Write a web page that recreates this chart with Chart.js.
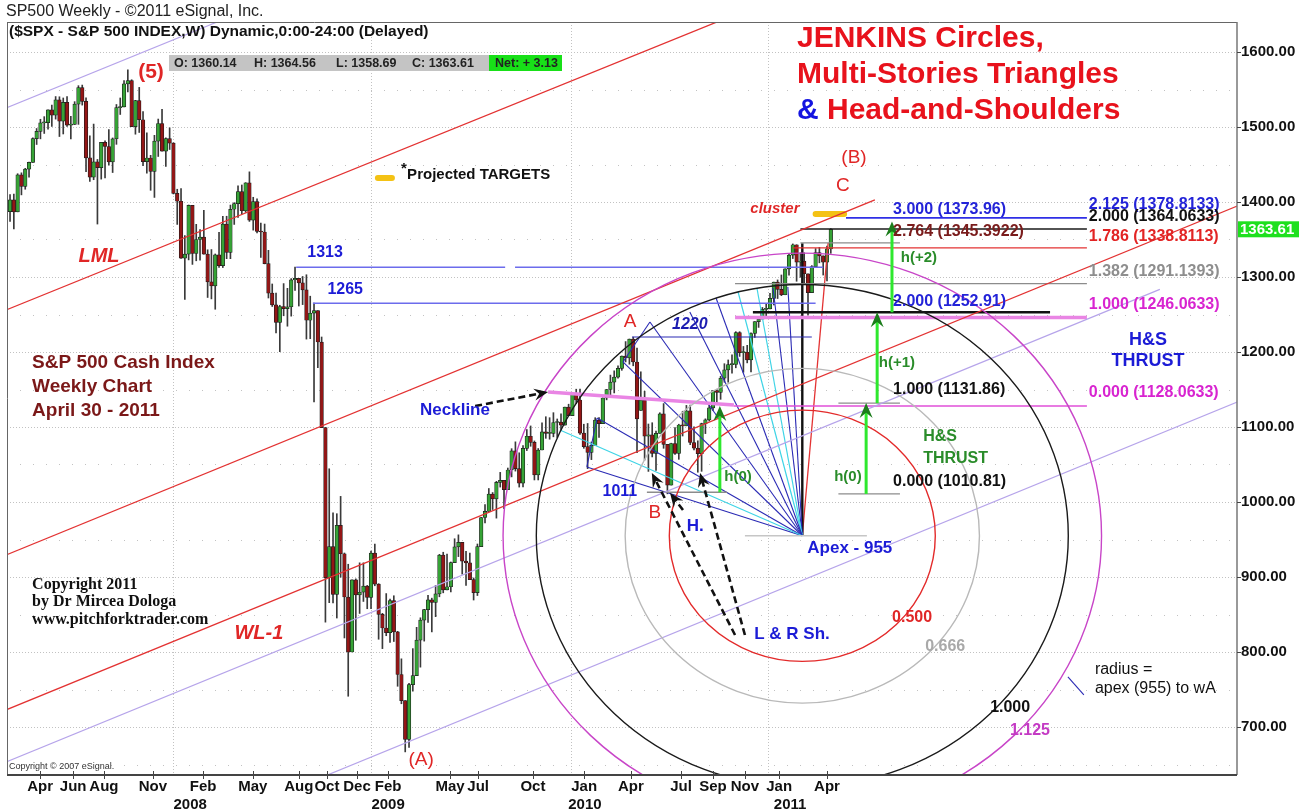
<!DOCTYPE html>
<html>
<head>
<meta charset="utf-8">
<script src="https://cdn.jsdelivr.net/npm/chart.js@4.4.1/dist/chart.umd.min.js"></script>
<style>html,body{margin:0;padding:0;background:#fff}canvas{display:block}</style>
</head>
<body>
<canvas id="chart" width="1312" height="810"></canvas>
<script>
// weekly S&P 500 bars, week 0 = 9 Mar 2007 ... week 216 = 29 Apr 2011
const open = [
  1387.1,1402.8,1386.9,1436.1,1420.8,1443.8,1452.9,1484.4,1494.1,1505.6,1505.9,1522.8,1515.7,1536.3,1507.7,1532.9,1502.6,1503.4,1530.4,1552.5,1534.1,1458.9,1433.1,1453.6,1445.9,1479.4,1474.0,1453.6,1484.3,1525.8,1526.8,1557.6,1561.8,1500.6,1535.3,1509.7,1453.7,1458.7,1440.7,1481.1,1504.7,1467.9,1484.5,
  1478.5,1411.6,1401.0,1325.2,1330.6,1395.4,1331.3,1350.0,1353.1,1330.6,1293.4,1288.1,1329.5,1315.2,1370.4,1332.8,1390.3,1397.8,1413.9,1388.3,1425.4,1375.9,1400.4,1360.7,1360.0,1317.9,1278.4,1262.9,1239.5,1260.7,1257.8,1260.3,1296.3,1298.2,1292.2,1282.8,1242.3,1251.7,1255.1,1213.3,1099.2,899.2,940.6,876.8,968.8,931.0,873.3,800.0,896.2,876.1,879.7,887.9,
  872.8,931.8,890.4,850.1,832.0,825.9,868.6,826.8,770.0,735.1,683.4,756.6,768.5,815.9,842.5,856.6,869.6,866.2,877.5,929.2,882.9,887.0,919.1,940.1,946.2,921.2,918.9,896.4,879.1,940.4,979.3,987.5,1010.5,1004.1,1026.1,1028.9,1016.4,1042.7,1068.3,1044.4,1025.2,1071.5,1087.7,1079.6,1036.2,1069.3,1093.5,1091.4,1091.5,1106.0,1106.4,1102.5,1126.5,
  1115.1,1145.0,1136.0,1091.8,1073.9,1066.2,1075.5,1109.2,1104.5,1138.7,1150.0,1159.9,1166.6,1178.1,1194.4,1192.1,1217.3,1186.7,1122.0,1135.7,1087.7,1089.4,1064.9,1091.6,1117.5,1076.8,1022.6,1078.0,1064.9,1102.7,1101.6,1121.6,1079.3,1071.7,1064.6,1104.5,1109.6,1125.6,1148.7,1146.2,1165.2,1176.2,1183.1,1183.3,1225.9,1199.2,1199.7,1189.4,1224.7,1240.4,1243.9,1256.8,
  1257.6,1271.5,1293.2,1283.4,1276.3,1310.9,1329.2,1343.0,1319.9,1321.2,1304.3,1279.2,1313.8,1332.4,1328.2,1319.7,1337.4
];
const high = [
  1410.0,1410.7,1437.7,1438.9,1444.9,1453.1,1485.4,1498.0,1510.3,1513.8,1522.8,1529.3,1540.6,1540.3,1538.7,1540.4,1514.3,1533.8,1555.1,1555.9,1538.9,1488.3,1503.9,1456.7,1479.4,1481.5,1496.4,1485.4,1530.0,1538.7,1561.9,1576.1,1563.0,1535.6,1552.8,1520.4,1492.1,1462.2,1488.9,1510.6,1523.6,1485.4,1498.9,
  1479.0,1417.0,1417.8,1355.2,1396.0,1395.4,1370.2,1363.3,1389.0,1336.3,1336.6,1330.7,1359.7,1380.9,1381.0,1395.9,1399.1,1421.6,1422.7,1425.8,1440.2,1406.3,1404.1,1371.9,1370.6,1335.6,1290.7,1278.5,1262.3,1291.2,1284.9,1297.9,1313.2,1298.2,1300.7,1303.0,1274.4,1265.1,1255.1,1220.0,1099.2,1044.3,985.4,984.4,1007.5,932.0,917.0,896.3,897.5,918.9,918.9,888.8,
  934.7,943.9,891.1,851.6,877.9,870.7,875.0,827.6,790.9,735.1,758.3,804.5,832.9,845.6,856.9,875.6,871.8,888.7,930.2,933.0,930.5,920.0,951.0,956.2,946.2,934.2,931.9,898.7,944.0,979.4,996.7,1018.0,1012.6,1027.6,1039.5,1028.9,1045.3,1071.1,1080.2,1065.6,1075.3,1096.6,1101.4,1081.4,1071.3,1105.4,1113.7,1112.4,1119.1,1110.7,1117.7,1126.5,1130.4,
  1145.4,1150.4,1150.5,1103.7,1104.7,1080.0,1112.4,1112.4,1139.0,1150.2,1169.2,1174.9,1181.4,1194.7,1213.9,1217.3,1219.8,1205.1,1173.6,1147.7,1104.0,1105.7,1094.4,1119.0,1131.2,1076.8,1078.4,1099.1,1103.7,1121.0,1128.8,1129.2,1100.1,1081.6,1105.1,1110.9,1131.5,1148.9,1150.3,1167.7,1184.4,1189.4,1196.1,1227.1,1227.1,1207.4,1208.9,1225.6,1240.4,1246.7,1259.4,1263.6,
  1278.2,1293.2,1296.1,1302.7,1311.0,1330.8,1344.1,1343.0,1332.3,1332.3,1304.3,1315.2,1337.9,1339.5,1328.2,1341.2,1364.6
];
const low = [
  1374.0,1364.0,1386.9,1409.5,1417.0,1433.0,1452.9,1476.7,1484.2,1491.4,1497.2,1500.7,1510.5,1487.3,1490.7,1500.9,1484.2,1503.4,1503.5,1529.2,1440.6,1427.4,1429.7,1370.6,1430.5,1432.0,1449.1,1439.3,1476.9,1516.7,1526.8,1546.7,1500.5,1490.4,1492.7,1448.5,1438.5,1415.6,1406.1,1460.7,1467.9,1447.4,1470.0,
  1410.7,1370.1,1324.7,1270.1,1322.8,1316.8,1321.6,1322.3,1330.4,1272.7,1270.8,1257.0,1312.8,1312.6,1324.4,1324.4,1370.1,1379.6,1384.1,1386.2,1374.1,1362.5,1358.7,1326.1,1317.5,1272.0,1260.7,1225.4,1200.4,1248.3,1234.4,1247.8,1282.1,1261.3,1263.2,1217.2,1217.8,1133.5,1179.1,1099.2,839.8,865.8,865.6,845.3,899.7,818.7,741.0,800.0,815.7,851.4,867.4,857.7,
  857.7,888.3,817.0,804.5,821.7,812.9,814.0,754.3,731.0,666.8,672.9,747.8,768.5,779.8,814.5,839.3,826.8,847.1,873.6,878.9,882.9,880.1,919.1,927.2,903.8,888.9,896.4,869.3,875.3,940.4,972.0,987.5,990.0,978.5,1019.9,991.0,1016.4,1033.5,1041.2,1019.9,1020.2,1068.6,1074.3,1029.4,1029.4,1069.3,1084.9,1083.7,1086.9,1085.9,1095.4,1102.5,1115.1,
  1115.1,1131.4,1090.2,1071.6,1044.5,1056.5,1075.5,1086.0,1104.5,1136.2,1141.4,1145.4,1165.1,1175.6,1186.8,1183.7,1181.6,1065.8,1122.0,1055.9,1040.8,1060.1,1042.2,1091.6,1071.6,1010.9,1022.6,1063.3,1056.9,1088.0,1101.6,1076.4,1069.5,1039.7,1040.9,1091.2,1108.0,1122.1,1131.9,1136.9,1159.7,1159.7,1171.7,1178.9,1194.1,1173.0,1185.5,1173.6,1219.4,1232.8,1243.9,1248.2,
  1257.6,1262.7,1271.3,1275.1,1276.3,1302.6,1324.6,1294.3,1299.6,1291.3,1249.1,1279.2,1313.8,1318.9,1302.6,1294.7,1331.6
];
const close = [
  1402.8,1386.9,1436.1,1420.9,1443.8,1452.9,1484.4,1494.1,1505.6,1505.9,1522.8,1515.7,1536.3,1507.7,1532.9,1502.6,1503.4,1530.4,1552.5,1534.1,1458.9,1433.1,1453.6,1445.9,1479.4,1474.0,1453.6,1484.3,1525.8,1526.8,1557.6,1561.8,1500.6,1535.3,1509.7,1453.7,1458.7,1440.7,1481.1,1504.7,1467.9,1484.5,1478.5,
  1411.6,1401.0,1325.2,1330.6,1395.4,1331.3,1350.0,1353.1,1330.6,1293.4,1288.1,1329.5,1315.2,1370.4,1332.8,1390.3,1397.8,1413.9,1388.3,1425.4,1375.9,1400.4,1360.7,1360.0,1317.9,1278.4,1262.9,1239.5,1260.7,1257.8,1260.3,1296.3,1298.2,1292.2,1282.8,1242.3,1251.7,1255.1,1213.3,1099.2,899.2,940.6,876.8,968.8,931.0,873.3,800.0,896.2,876.1,879.7,887.9,872.8,
  931.8,890.4,850.1,832.0,825.9,868.6,826.8,770.0,735.1,683.4,756.6,768.5,815.9,842.5,856.6,869.6,866.2,877.5,929.2,882.9,887.0,919.1,940.1,946.2,921.2,918.9,896.4,879.1,940.4,979.3,987.5,1010.5,1004.1,1026.1,1028.9,1016.4,1042.7,1068.3,1044.4,1025.2,1071.5,1087.7,1079.6,1036.2,1069.3,1093.5,1091.4,1091.5,1106.0,1106.4,1102.5,1126.5,1115.1,
  1145.0,1136.0,1091.8,1073.9,1066.2,1075.5,1109.2,1104.5,1138.7,1150.0,1159.9,1166.6,1178.1,1194.4,1192.1,1217.3,1186.7,1110.9,1135.7,1087.7,1089.4,1064.9,1091.6,1117.5,1076.8,1022.6,1078.0,1064.9,1102.7,1101.6,1121.6,1079.3,1071.7,1064.6,1104.5,1109.6,1125.6,1148.7,1146.2,1165.2,1176.2,1183.1,1183.3,1225.9,1199.2,1199.7,1189.4,1224.7,1240.4,1243.9,1256.8,1257.6,
  1271.5,1293.2,1283.4,1276.3,1310.9,1329.2,1343.0,1319.9,1321.2,1304.3,1279.2,1313.8,1332.4,1328.2,1319.7,1337.4,1363.61
];

// axis ticks (week positions)
const monthTicks = [7.9,16.6,24.7,37.6,50.8,63.9,76,83.4,91.3,99.5,115.8,123.2,137.6,151.1,163.4,176.6,185,193.4,202.4,215];
const monthLabels = ['Apr','Jun','Aug','Nov','Feb','May','Aug','Oct','Dec','Feb','May','Jul','Oct','Jan','Apr','Jul','Sep','Nov','Jan','Apr'];
const yearTicks = [47.4,99.5,151.3,205.3];
const yearLabels = ['2008','2009','2010','2011'];
const yearStarts = [43,95,147.5,199.5];
const priceTicks = [700,800,900,1000,1100,1200,1300,1400,1500,1600];

// drawing objects in [week, price] units
const redLines = [[-3,1252,187,1642],[-3,925.3,227.6,1402.7],[-3,718.7,323,1394.7]];
const lavenderLines = [[-3,1521.3,54.5,1640],[-3,649.3,302.6,1283.5],[81.6,632,323,1133.3]];
// [price, fromWeek, toWeek, style]
const levels = [
  [1313,75.3,130.3,'lightblue'],[1313,132.9,214,'lightblue'],[1265,79.7,212,'lightblue'],[1220,163.7,211,'navy'],
  [1378.81,220,283.4,'blue'],[1364.06,208,283.4,'black'],[1345.39,208,234.2,'gray'],[1338.81,206,283.4,'red'],
  [1291.14,190.8,283.4,'gray'],[1252.91,195.5,273.7,'blackBold'],[1246.06,190.8,283.4,'magentaBold'],
  [1131.86,218,234.2,'gray'],[1128.06,190.5,283.4,'magenta'],[1010.81,218,234.2,'gray'],[1013,167.6,188.7,'gray'],
  [955,193.4,225.5,'lightgray']
];
const necklines = [[141.6,1146.7,190.5,1129.3]];
const apex = [208.5,955];
const fanEnds = [
  [144.7,1096,'cyan'],[151.8,1046.7,'navy'],[154.5,1112,'navy'],[161.3,1186.7,'navy'],[168.4,1240,'navy'],
  [178.9,1253.3,'navy'],[185.8,1272,'navy'],[191.6,1280,'cyan'],[196.6,1284,'cyan'],[200.8,1285.3,'navy'],
  [204.7,1286.7,'navy'],[208.5,1345,'blackBold'],[215.3,1345.3,'red']
];
const triangleEdges = [[151.8,1046.7,154.5,1112],[161.3,1186.7,168.4,1240]];
const targetMarks = [[212,1384,219.5,1384],[96.8,1432,100.5,1432]];
const circleRatios = [[0.5,'#e32a2a'],[0.666,'#b9b9b9'],[1,'#1a1a1a'],[1.125,'#c845c8']];
const circleRadius = [70,335]; // weeks, points
const thrustArrows = [[186.8,1013,1128],[225.3,1010.8,1131.9],[228.2,1131.9,1252.9],[232.1,1252.9,1374]];
const dashedArrows = [[122.4,1128,141.6,1146.7],[190.8,822.7,168.9,1038.7],[193.4,822.7,181.6,1038.7],[177.1,989.3,173.7,1012]];
const radiusTick = [278.4,766.7,282.6,742.7];

const labels = [
  ['(5)',37.1,1573.3,'red5'],['LML',23.4,1326.7,'redItalic'],['WL-1',65.5,825.3,'redItalic'],
  ['(A)',108.2,656,'red'],['A',163.2,1240,'red'],['B',169.7,985.3,'red'],['(B)',222.1,1458.7,'red'],['C',219.2,1421.3,'red'],
  ['cluster',201.3,1390.7,'cluster'],['*',102.9,1444,'note'],['Projected TARGETS',104.5,1436,'note'],
  ['S&P 500 Cash Index',5.8,1185.3,'cash'],['Weekly Chart',5.8,1153.3,'cash'],['April 30 - 2011',5.8,1121.3,'cash'],
  ['Copyright 2011',5.8,889.3,'serif'],['by Dr Mircea Dologa',5.8,866.7,'serif'],['www.pitchforktrader.com',5.8,842.7,'serif'],
  ['Neckline',117.1,1122.7,'blue'],['1011',160.5,1013.3,'blueS'],['1220',178.9,1236,'blueItalic'],
  ['1313',82.9,1332,'blueS'],['1265',88.2,1282.7,'blueS'],['H.',180.3,968,'blue'],['L & R Sh.',205.8,824,'blue'],
  ['Apex - 955',221,938.7,'blue'],
  ['3.000 (1373.96)',232.4,1389.3,'fibBlue'],['2.764 (1345.3922)',232.4,1360,'fibDark'],['2.000 (1252.91)',232.4,1266.7,'fibBlue'],
  ['1.000 (1131.86)',232.4,1149.3,'fibBlack'],['0.000 (1010.81)',232.4,1026.7,'fibBlack'],
  ['2.125 (1378.8133)',283.9,1396,'fibBlue'],['2.000 (1364.0633)',283.9,1380,'fibBlack'],['1.786 (1338.8113)',283.9,1353.3,'fibRed'],
  ['1.382 (1291.1393)',283.9,1306.7,'fibGray'],['1.000 (1246.0633)',283.9,1262.7,'fibMag'],['0.000 (1128.0633)',283.9,1145.3,'fibMag'],
  ['H&S',299.5,1216,'blueBig'],['THRUST',299.5,1188,'blueBig'],['H&S',240.3,1086.7,'green'],['THRUST',240.3,1057.3,'green'],
  ['h(0)',191.6,1033.3,'greenC'],['h(0)',220.5,1033.3,'greenC'],['h(+1)',233.4,1185.3,'greenC'],['h(+2)',239.2,1325.3,'greenC'],
  ['0.500',237.4,845.3,'circRed'],['0.666',246.1,806.7,'circGray'],['1.000',263.2,725.3,'circBlack'],['1.125',268.4,694.7,'circMag'],
  ['radius =',285.5,776,'plain'],['apex (955) to wA',285.5,750.7,'plain']
];

const SANS = '"Liberation Sans", Arial, sans-serif';
const SERIF = '"Liberation Serif", "Times New Roman", serif';

const lineStyles = {
  red: ['#e33232',1.3], lavender: ['#b6a4ea',1.2], lightblue: ['#6c6cec',1.3], navy: ['#2a2ab4',1.1],
  blue: ['#2f2fe6',1.6], black: ['#1a1a1a',1.4], blackBold: ['#111',2.4], gray: ['#8c8c8c',1.3],
  lightgray: ['#c6c6c6',1.3], magenta: ['#e04fd8',1.4], magentaBold: ['#e985e4',3.5], cyan: ['#3fd4e6',1.2],
  yellow: ['#f4c214',6]
};
const textStyles = {
  red5: ['bold 21px ' + SANS,'#e02626','center'], redItalic: ['italic bold 20px ' + SANS,'#e02626','center'],
  red: ['19px ' + SANS,'#e02626','center'], cluster: ['italic bold 15px ' + SANS,'#e02626','center'],
  note: ['bold 15px ' + SANS,'#111','left'], cash: ['bold 19px ' + SANS,'#7b1818','left'],
  serif: ['bold 16px ' + SERIF,'#111','left'], blue: ['bold 17px ' + SANS,'#1c1cd6','center'],
  blueS: ['bold 16px ' + SANS,'#1c1cd6','center'], blueItalic: ['italic bold 16px ' + SANS,'#1c1cb0','center'],
  blueBig: ['bold 18px ' + SANS,'#1c1cd6','center'],
  fibBlue: ['bold 16px ' + SANS,'#2323d8','left'], fibBlack: ['bold 16px ' + SANS,'#111','left'],
  fibDark: ['bold 16px ' + SANS,'#7a1c1c','left'], fibRed: ['bold 16px ' + SANS,'#e22424','left'],
  fibGray: ['bold 16px ' + SANS,'#8e8e8e','left'], fibMag: ['bold 16px ' + SANS,'#d824d0','left'],
  green: ['bold 16px ' + SANS,'#2a8c2a','left'], greenC: ['bold 15px ' + SANS,'#2a8c2a','center'],
  circRed: ['bold 16px ' + SANS,'#e02626','center'], circGray: ['bold 16px ' + SANS,'#a9a9a9','center'],
  circBlack: ['bold 16px ' + SANS,'#111','center'], circMag: ['bold 16px ' + SANS,'#c43ac4','center'],
  plain: ['16px ' + SANS,'#111','left']
};

function segment(x1, y1, x2, y2, style, dash) {
  const [c, w] = lineStyles[style];
  return {
    type: 'line', data: [{x: x1, y: y1}, {x: x2, y: y2}], borderColor: c, borderWidth: w,
    borderDash: dash || [], borderCapStyle: style === 'yellow' ? 'round' : 'butt',
    pointRadius: 0, fill: false, tension: 0, order: 0
  };
}

const lineSets = [];
redLines.forEach(l => lineSets.push(segment(...l, 'red')));
lavenderLines.forEach(l => lineSets.push(segment(...l, 'lavender')));
levels.forEach(([p, a, b, s]) => lineSets.push(segment(a, p, b, p, s)));
necklines.forEach(l => lineSets.push(segment(...l, 'magentaBold')));
fanEnds.forEach(([w, p, s]) => lineSets.push(segment(apex[0], apex[1], w, p, s)));
triangleEdges.forEach(l => lineSets.push(segment(...l, 'navy')));
targetMarks.forEach(l => lineSets.push(segment(...l, 'yellow')));
lineSets.push(segment(...radiusTick, 'navy'));

const xTickItems = monthTicks.map((v, i) => ({value: v, label: monthLabels[i]}))
  .concat(yearTicks.map((v, i) => ({value: v, label: ['', yearLabels[i]]})));

function arrowHead(ctx, x1, y1, x2, y2, len, wid, color) {
  const ang = Math.atan2(y2 - y1, x2 - x1);
  ctx.save();
  ctx.translate(x2, y2);
  ctx.rotate(ang);
  ctx.fillStyle = color;
  ctx.beginPath();
  ctx.moveTo(0, 0);
  ctx.lineTo(-len, -wid / 2);
  ctx.lineTo(-len * 0.65, 0);
  ctx.lineTo(-len, wid / 2);
  ctx.closePath();
  ctx.fill();
  ctx.restore();
}

function text(ctx, s, x, y, font, color, align) {
  ctx.font = font;
  ctx.fillStyle = color;
  ctx.textAlign = align || 'left';
  ctx.textBaseline = 'middle';
  ctx.fillText(s, x, y);
}

const overlay = {
  id: 'overlay',
  beforeDatasetsDraw(chart) {
    const {ctx, chartArea: a, scales: {x, y}} = chart;
    ctx.save();
    ctx.strokeStyle = '#c2c2c2';
    ctx.lineWidth = 1;
    for (let v = 650; v <= 1600; v += 50) {
      const py = Math.round(y.getPixelForValue(v)) + 0.5;
      ctx.setLineDash(v % 100 ? [1, 12] : [1, 2]);
      ctx.beginPath(); ctx.moveTo(a.left, py); ctx.lineTo(a.right, py); ctx.stroke();
    }
    ctx.setLineDash([1, 2]);
    yearStarts.forEach(w => {
      const px = Math.round(x.getPixelForValue(w)) + 0.5;
      ctx.beginPath(); ctx.moveTo(px, a.top); ctx.lineTo(px, a.bottom); ctx.stroke();
    });
    ctx.restore();
  },
  afterDatasetsDraw(chart) {
    const {ctx, chartArea: a, scales: {x, y}} = chart;
    const P = (w, p) => [x.getPixelForValue(w), y.getPixelForValue(p)];
    ctx.save();
    ctx.beginPath(); ctx.rect(a.left, a.top, a.right - a.left, a.bottom - a.top); ctx.clip();

    // Jenkins circles around the apex
    const [cx, cy] = P(apex[0], apex[1]);
    circleRatios.forEach(([r, c]) => {
      const rx = x.getPixelForValue(apex[0] + circleRadius[0] * r) - cx;
      const ry = cy - y.getPixelForValue(apex[1] + circleRadius[1] * r);
      ctx.strokeStyle = c;
      ctx.lineWidth = 1.4;
      ctx.beginPath(); ctx.ellipse(cx, cy, rx, ry, 0, 0, Math.PI * 2); ctx.stroke();
    });

    // H&S thrust arrows
    thrustArrows.forEach(([w, p1, p2]) => {
      const [x1, y1] = P(w, p1), [, y2] = P(w, p2);
      ctx.strokeStyle = '#2ee82e'; ctx.lineWidth = 3;
      ctx.beginPath(); ctx.moveTo(x1, y1); ctx.lineTo(x1, y2 + 9); ctx.stroke();
      arrowHead(ctx, x1, y1, x1, y2, 15, 13, '#1c7d1c');
    });

    // dashed pointer arrows
    dashedArrows.forEach(([w1, p1, w2, p2]) => {
      const [x1, y1] = P(w1, p1), [x2, y2] = P(w2, p2);
      const ang = Math.atan2(y2 - y1, x2 - x1);
      ctx.strokeStyle = '#111'; ctx.lineWidth = 2.6; ctx.setLineDash([7, 4]);
      ctx.beginPath(); ctx.moveTo(x1, y1); ctx.lineTo(x2 - 8 * Math.cos(ang), y2 - 8 * Math.sin(ang)); ctx.stroke();
      ctx.setLineDash([]);
      arrowHead(ctx, x1, y1, x2, y2, 14, 12, '#111');
    });

    // text annotations
    labels.forEach(([s, w, p, k]) => {
      const [f, c, al] = textStyles[k];
      const [px, py] = P(w, p);
      text(ctx, s, px, py, f, c, al);
    });
    ctx.restore();
  },
  afterDraw(chart) {
    const {ctx, chartArea: a, scales: {y}} = chart;
    ctx.save();
    // frame
    ctx.strokeStyle = '#666'; ctx.lineWidth = 1;
    ctx.beginPath(); ctx.moveTo(a.left, a.top + 0.5); ctx.lineTo(a.right, a.top + 0.5); ctx.stroke();
    ctx.beginPath(); ctx.moveTo(a.left + 0.5, a.top); ctx.lineTo(a.left + 0.5, a.bottom); ctx.stroke();
    ctx.strokeStyle = '#777'; ctx.lineWidth = 1.5;
    ctx.beginPath(); ctx.moveTo(a.right, a.top); ctx.lineTo(a.right, a.bottom); ctx.stroke();
    ctx.strokeStyle = '#444'; ctx.lineWidth = 2;
    ctx.beginPath(); ctx.moveTo(a.left, a.bottom); ctx.lineTo(a.right, a.bottom); ctx.stroke();
    ctx.lineWidth = 1;
    monthTicks.forEach(w => {
      const px = Math.round(chart.scales.x.getPixelForValue(w)) + 0.5;
      ctx.beginPath(); ctx.moveTo(px, a.bottom - 4); ctx.lineTo(px, a.bottom + 4); ctx.stroke();
    });
    priceTicks.forEach(v => {
      const py = Math.round(y.getPixelForValue(v)) + 0.5;
      ctx.beginPath(); ctx.moveTo(a.right, py); ctx.lineTo(a.right + 4, py); ctx.stroke();
    });

    // header
    text(ctx, 'SP500 Weekly - \u00a92011 eSignal, Inc.', 6, 12, '16px ' + SANS, '#222');
    text(ctx, '($SPX - S&P 500 INDEX,W) Dynamic,0:00-24:00 (Delayed)', 9, 32, 'bold 15.5px ' + SANS, '#111');
    ctx.fillStyle = '#c4c4c4'; ctx.fillRect(169, 55, 320, 16);
    ctx.fillStyle = '#18e018'; ctx.fillRect(489, 55, 73, 16);
    const ohlc = [['O: 1360.14', 174], ['H: 1364.56', 254], ['L: 1358.69', 336], ['C: 1363.61', 412], ['Net: + 3.13', 495]];
    ohlc.forEach(([s, px]) => text(ctx, s, px, 63.5, 'bold 12.5px ' + SANS, '#222'));
    text(ctx, 'Copyright \u00a9 2007 eSignal.', 9, 767, '9px ' + SANS, '#333');

    // title
    const tf = 'bold 30px ' + SANS;
    text(ctx, 'JENKINS Circles,', 797, 39, tf, '#e8121c');
    text(ctx, 'Multi-Stories Triangles', 797, 75, tf, '#e8121c');
    text(ctx, '&', 797, 111, tf, '#1414e0');
    ctx.font = tf;
    text(ctx, 'Head-and-Shoulders', 797 + ctx.measureText('& ').width, 111, tf, '#e8121c');

    // last price tag
    const lp = close[close.length - 1];
    const ly = y.getPixelForValue(lp);
    ctx.fillStyle = '#1ee01e'; ctx.fillRect(a.right + 1, ly - 8, 61, 16);
    text(ctx, lp.toFixed(2), a.right + 3, ly + 0.5, 'bold 15px ' + SANS, '#fff');
    ctx.restore();
  }
};

Chart.defaults.font.family = SANS;

new Chart(document.getElementById('chart'), {
  type: 'bar',
  data: {
    datasets: [
      {
        label: 'body',
        data: close.map((c, i) => ({x: i, y: [open[i], c]})),
        backgroundColor: ctx => close[ctx.dataIndex] >= open[ctx.dataIndex] ? '#36a336' : '#941616',
        borderColor: '#1c1c1c', borderWidth: 0.7, borderSkipped: false,
        barThickness: 3.6, minBarLength: 1, grouped: false, order: 1
      },
      {
        label: 'wick',
        data: close.map((c, i) => ({x: i, y: [low[i], high[i]]})),
        backgroundColor: '#3a3a3a', barThickness: 1, grouped: false, order: 2
      },
      ...lineSets
    ]
  },
  options: {
    responsive: false,
    animation: false,
    events: [],
    layout: {padding: {top: 22, left: 7, right: 0, bottom: 0}},
    plugins: {legend: {display: false}, tooltip: {enabled: false}},
    scales: {
      x: {
        type: 'linear', min: -0.8, max: 322.9, bounds: 'data', offset: false,
        grid: {display: false, drawTicks: false}, border: {display: false},
        afterBuildTicks: s => { s.ticks = xTickItems.map(t => ({value: t.value})); },
        afterFit: s => { s.height = 35; },
        ticks: {
          autoSkip: false, maxRotation: 0, minRotation: 0, padding: 3, color: '#111',
          font: {size: 15, weight: 'bold'},
          callback: (v, i) => xTickItems[i].label
        }
      },
      y: {
        position: 'right', min: 636, max: 1640, bounds: 'data',
        grid: {display: false, drawTicks: false}, border: {display: false},
        afterBuildTicks: s => { s.ticks = priceTicks.map(v => ({value: v})); },
        afterFit: s => { s.width = 75; },
        ticks: {padding: 4, color: '#111', font: {size: 15, weight: 'bold'}, callback: v => v.toFixed(2)}
      }
    }
  },
  plugins: [overlay]
});
</script>
</body>
</html>
